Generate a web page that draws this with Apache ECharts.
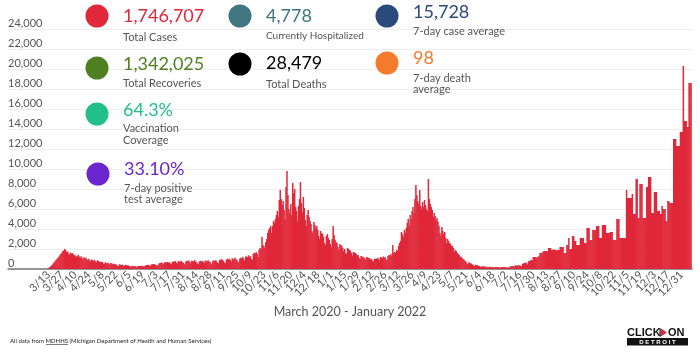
<!DOCTYPE html>
<html><head><meta charset="utf-8">
<script src="https://cdn.jsdelivr.net/npm/echarts@6/dist/echarts.min.js"></script>
<style>html,body{margin:0;padding:0;background:#fff}#c{width:700px;height:355px}</style>
</head><body><div id="c"></div>
<script>
// x tick labels, one every 14 days starting 3/13/2020
const xTickLabels = ['3/13','3/27','4/10','4/24','5/8','5/22','6/5','6/19','7/3','7/17','7/31','8/14','8/28','9/11','9/25','10/9','10/23','11/6','11/20','12/4','12/18','1/1','1/15','1/29','2/12','2/26','3/12','3/26','4/9','4/23','5/7','5/21','6/4','6/18','7/2','7/16','7/30','8/13','8/27','9/10','9/24','10/8','10/22','11/5','11/19','12/3','12/17','12/31'];

// daily cases, 3/13/2020 - 6/18/2020
const casesSegA = [
 80,150,230,320,420,560,640,780,900,1010,1120,1250,1380,1500,
 1620,1790,1850,1990,1880,1680,1740,1560,1420,1640,1530,1600,1450,1380,
 1350,1180,1300,1420,1250,1150,1280,1090,960,1180,1050,1120,980,900,
 1020,850,780,960,880,820,900,760,650,880,790,740,700,680,
 720,560,500,680,600,560,620,520,420,590,540,480,520,450,
 480,380,330,300,470,420,400,440,330,290,420,380,360,350,
 330,250,220,330,300,280,290,250,200,310,290,300,320,260];
// 6/19/2020 - 9/24/2020
const casesSegB = [
 310,240,270,360,380,400,420,350,300,450,480,470,500,430,
 410,330,380,560,600,620,650,570,480,690,640,660,700,620,
 680,520,480,720,760,700,800,640,560,790,740,720,820,700,
 650,520,460,780,820,760,850,700,560,830,780,760,900,720,
 680,540,480,760,800,740,820,720,580,850,800,760,880,760,
 720,560,500,820,860,780,880,740,600,560,920,880,1000,880,
 820,640,560,960,1000,920,1050,900,700,1080,1020,980,1120,960];
// 9/25/2020 - 12/31/2020
const casesSegC = [
 920,720,640,1050,1120,1060,1200,1020,800,1250,1220,1180,1380,1200,
 1280,1000,900,1500,1620,1560,1700,1500,1200,1900,2100,2000,3200,2400,
 2300,2100,2700,3000,3600,3900,4100,4300,3600,4300,4800,4600,5000,5400,
 5800,5200,6900,7900,7000,6400,6800,5900,5000,8200,9800,7400,6000,5600,
 6500,5400,8600,7600,8000,6200,5800,4800,6300,7000,8700,6600,5700,7200,
 6100,4900,4300,5400,5900,5200,4800,4500,3800,3600,4700,4400,4100,4300,
 3900,3300,3000,3800,3600,3500,3200,2600,2400,3300,3500,3100,2900,2500];
// 1/1/2021 - 4/8/2021
const casesSegD = [
 2200,3000,4300,3400,2900,2700,2600,2200,1900,2500,2400,2300,2100,1800,
 2000,1600,1500,2100,2000,1900,1800,1600,1300,1700,1650,1600,1500,1350,
 1400,1100,1000,1300,1250,1200,1150,1050,900,1200,1150,1100,1050,950,
 1000,800,750,1000,1050,1000,1100,1000,850,1200,1150,1100,1250,1100,
 1200,950,900,1300,1400,1350,1500,1300,2400,1600,1700,1650,1900,1800,
 2300,2600,2800,3700,3500,3200,3900,3600,4100,4600,5000,4300,5400,5000,
 5800,6200,5600,7000,8400,7400,6800,6500,7900,6300,6000,6700,6200,6900];
// 4/9/2021 - 7/15/2021
const casesSegE = [
 6400,6000,5800,9000,7000,6500,6200,5900,5200,5600,5300,4900,5100,4700,
 4300,3600,3300,4200,3800,3500,3700,3100,2600,3000,2800,2600,2500,2300,
 2300,2100,1700,1900,1800,1600,1500,1400,1200,1250,1100,1000,950,800,
 750,560,480,650,620,560,520,440,360,300,420,400,360,300,
 320,240,200,280,260,240,250,210,160,230,210,200,220,180,
 200,150,140,190,180,170,190,160,130,200,190,180,200,170,
 180,130,120,170,260,280,300,280,220,340,360,350,380,320];
// 7/16/2021 - 10/21/2021
const casesSegF = [
 380,300,280,520,560,600,640,580,460,760,800,860,920,820,
 1200,1200,1200,1150,1150,1250,1250,1600,1600,1650,1650,1800,1800,1800,
 1800,1750,2100,2100,2100,1900,1900,1950,1950,1850,1850,1900,1900,1900,
 2200,2200,2200,2200,1600,1600,1600,2400,2400,3100,2000,2000,2000,3300,
 3300,2800,2800,2400,2400,2400,2400,3100,3100,3100,3100,2600,2600,2600,
 4100,4100,4100,2900,2900,2900,3900,3900,3900,3900,4300,4300,4300,3100,
 3100,3100,4400,4400,4400,4400,3600,3600,3600,3600,3700,3700,3700,2900];
// 10/22/2021 - 1/10/2022
const casesSegG = [
 2900,2900,2900,5000,5000,5000,3100,3100,3100,3100,3100,3100,3100,7900,
 7100,7100,7100,7100,7100,7500,5500,5500,5500,9000,9000,5100,5100,8500,
 8500,8500,5100,5100,5100,5100,8200,8200,9200,9200,9200,5600,5600,5600,
 7700,7700,7700,5800,5800,5800,5500,5500,6300,6000,6000,6000,4800,4800,
 6800,6800,6600,6600,6600,6600,13000,13000,13000,12300,12300,12300,12300,13700,
 13700,13700,20300,14800,14800,14800,14200,14200,18600,18600,18600];

const yTicks = [0,2000,4000,6000,8000,10000,12000,14000,16000,18000,20000,22000,24000];

// summary statistics
const statValues = ['1,746,707','1,342,025','64.3%','33.10%','4,778','28,479','15,728','98'];
const statLabels = ['Total Cases','Total Recoveries','Vaccination\nCoverage','7-day positive\ntest average','Currently Hospitalized','Total Deaths','7-day case average','7-day death\naverage'];
const statColors = ['#e0283a','#4e7f20','#22c088','#6b25cf','#3f7681','#000000','#2b4a7c','#f47a2c'];

const footerText = 'All data from MDHHS (Michigan Department of Health and Human Services)';
const xTitle = 'March 2020 - January 2022';

const cases = [].concat(casesSegA, casesSegB, casesSegC, casesSegD, casesSegE, casesSegF, casesSegG);

// layout (positions only)
const statLayout = [
  {cx:97, cy:16, ty:16, ly:31, lh:12, fs:11},
  {cx:97, cy:68, ty:64, ly:77, lh:12, fs:11},
  {cx:97, cy:114, ty:110, ly:122, lh:12, fs:11},
  {cx:98, cy:174, ty:169, ly:182.5, lh:11.5, fs:11},
  {cx:240, cy:16, ty:16, ly:30.5, lh:11, fs:10},
  {cx:240, cy:64, ty:63, ly:78, lh:12, fs:11},
  {cx:387, cy:16, ty:12, ly:25, lh:12, fs:11},
  {cx:387, cy:63, ty:58, ly:72.5, lh:11, fs:11}
];

const graphics = [];
statValues.forEach((v, i) => {
  const L = statLayout[i];
  graphics.push({type:'circle', z:10, shape:{cx:L.cx, cy:L.cy, r:11.5}, style:{fill:statColors[i]}});
  graphics.push({type:'text', z:10, x:L.cx+26, y:L.ty, style:{text:v, fill:statColors[i], fontSize:18, fontFamily:'Lato', verticalAlign:'middle', align:'left'}});
  graphics.push({type:'text', z:10, x:L.cx+26, y:L.ly, style:{text:statLabels[i], fill:'#555', fontSize:L.fs, lineHeight:L.lh, fontFamily:'Lato', verticalAlign:'top', align:'left'}});
});
graphics.push({type:'text', x:350, y:312, style:{text:xTitle, fill:'#555', fontSize:12.5, fontFamily:'Lato', align:'center', verticalAlign:'middle'}});
graphics.push({type:'text', x:10, y:341, style:{text:footerText, fill:'#222', fontSize:6, fontFamily:'Lato', align:'left', verticalAlign:'middle'}});
graphics.push({type:'line', shape:{x1:46, y1:344.5, x2:68, y2:344.5}, style:{stroke:'#222', lineWidth:0.6}});
// logo
graphics.push({type:'text', x:627, y:332.5, style:{text:'CLICK', fill:'#111', fontSize:11, fontWeight:900, fontFamily:'Liberation Sans', verticalAlign:'middle', align:'left'}});
graphics.push({type:'polygon', shape:{points:[[661,328.5],[667,332.5],[661,336.5]]}, style:{fill:'#e0283a'}});
graphics.push({type:'rect', shape:{x:659.5, y:328.5, width:1.2, height:8}, style:{fill:'#111'}});
graphics.push({type:'text', x:668, y:332.5, style:{text:'ON', fill:'#111', fontSize:11, fontWeight:900, fontFamily:'Liberation Sans', verticalAlign:'middle', align:'left'}});
graphics.push({type:'rect', shape:{x:627, y:338, width:61, height:7.5}, style:{fill:'#111'}});
graphics.push({type:'text', x:657.5, y:342, style:{text:'D E T R O I T', fill:'#fff', fontSize:6, fontWeight:'bold', fontFamily:'Liberation Sans', verticalAlign:'middle', align:'center'}});

const chart = echarts.init(document.getElementById('c'), null, {renderer:'canvas'});
chart.setOption({
  animation:false,
  backgroundColor:'#fff',
  grid:{left:8, right:8, top:29, bottom:86, containLabel:false},
  xAxis:{
    type:'value', min:-42, max:669, interval:14,
    axisLine:{show:true, onZero:false, lineStyle:{color:'#777', width:1.5}},
    axisTick:{show:false}, splitLine:{show:false},
    axisLabel:{rotate:45, margin:4, fontSize:11, color:'#555', fontFamily:'Lato',
      showMinLabel:true, showMaxLabel:true,
      formatter:function(v){ if (v >= 0 && v % 14 === 0) { return xTickLabels[v/14] || ''; } return ''; }}
  },
  yAxis:{
    type:'value', min:yTicks[0], max:yTicks[yTicks.length-1], interval:yTicks[1]-yTicks[0],
    axisLine:{show:false}, axisTick:{show:false},
    axisLabel:{inside:true, margin:0, color:'#555', fontSize:11, fontFamily:'Lato', verticalAlign:'bottom'},
    splitLine:{lineStyle:{color:'#ececec', width:1}}
  },
  series:[{
    type:'bar', barWidth:1.5,
    data:cases.map((v,i)=>[i,v]),
    itemStyle:{color:'#e0283a'}
  }],
  graphic:graphics
});
</script></body></html>
